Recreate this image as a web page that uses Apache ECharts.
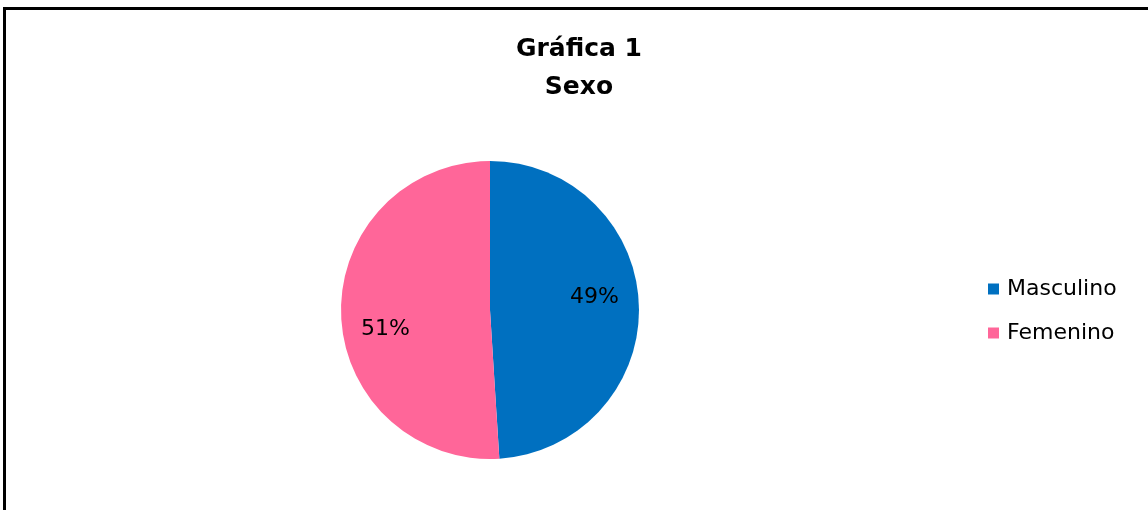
<!DOCTYPE html>
<html>
<head>
<meta charset="utf-8">
<style>
  html, body { margin: 0; padding: 0; background: #ffffff; }
  #chart { width: 1148px; height: 510px; }
</style>
<script src="https://cdn.jsdelivr.net/npm/echarts@6/dist/echarts.min.js"></script>
</head>
<body>
<div id="chart"></div>
<script>
// Chart text and data
const titleLines = ['Gráfica 1', 'Sexo'];
const categories = ['Masculino', 'Femenino'];
const percentages = [49, 51];
const sliceColors = ['#0070C0', '#FF6699'];

const FONT = '"DejaVu Sans", "Liberation Sans", Arial, sans-serif';
const CENTER = [490, 310];
const RADIUS = 149;
// labels sit at ~71% of the radius, turned a few degrees counter-clockwise
const LABEL_RADIUS = RADIUS * 0.71;
const LABEL_TURN = -7 * Math.PI / 180;

const chart = echarts.init(document.getElementById('chart'), null, { renderer: 'canvas' });

const seriesData = categories.map((name, i) => ({
  name: name,
  value: percentages[i],
  itemStyle: { color: sliceColors[i] }
}));

chart.setOption({
  backgroundColor: '#ffffff',
  animation: false,
  title: {
    text: titleLines.join('\n'),
    left: 574,
    top: 25,
    textAlign: 'center',
    textStyle: {
      fontFamily: FONT,
      fontWeight: 'bold',
      fontSize: 25,
      lineHeight: 38,
      color: '#000000'
    }
  },
  legend: {
    orient: 'vertical',
    left: 983,
    top: 273,
    itemWidth: 11,
    itemHeight: 11,
    itemGap: 22,
    icon: 'rect',
    data: categories,
    textStyle: {
      fontFamily: FONT,
      fontSize: 22,
      lineHeight: 22,
      color: '#000000',
      padding: [0, 0, 0, 3]
    }
  },
  graphic: [{
    type: 'rect',
    shape: { x: 4.5, y: 8.5, width: 1200, height: 600 },
    style: { fill: 'none', stroke: '#000000', lineWidth: 3 },
    silent: true,
    z: 100
  }],
  series: [{
    type: 'pie',
    center: CENTER,
    radius: [0, RADIUS],
    startAngle: 90,
    clockwise: true,
    avoidLabelOverlap: false,
    emphasis: { disabled: true },
    itemStyle: { borderWidth: 0 },
    label: {
      show: true,
      position: 'inside',
      formatter: (p) => p.value + '%',
      fontFamily: FONT,
      fontSize: 22,
      color: '#000000'
    },
    labelLine: { show: false },
    labelLayout: function (params) {
      const r = params.labelRect;
      const lx = r.x + r.width / 2;
      const ly = r.y + r.height / 2;
      const ang = Math.atan2(ly - CENTER[1], lx - CENTER[0]) + LABEL_TURN;
      const tx = CENTER[0] + LABEL_RADIUS * Math.cos(ang);
      const ty = CENTER[1] + LABEL_RADIUS * Math.sin(ang);
      return { dx: tx - lx, dy: ty - ly + 3 };
    },
    data: seriesData
  }]
});
</script>
</body>
</html>
